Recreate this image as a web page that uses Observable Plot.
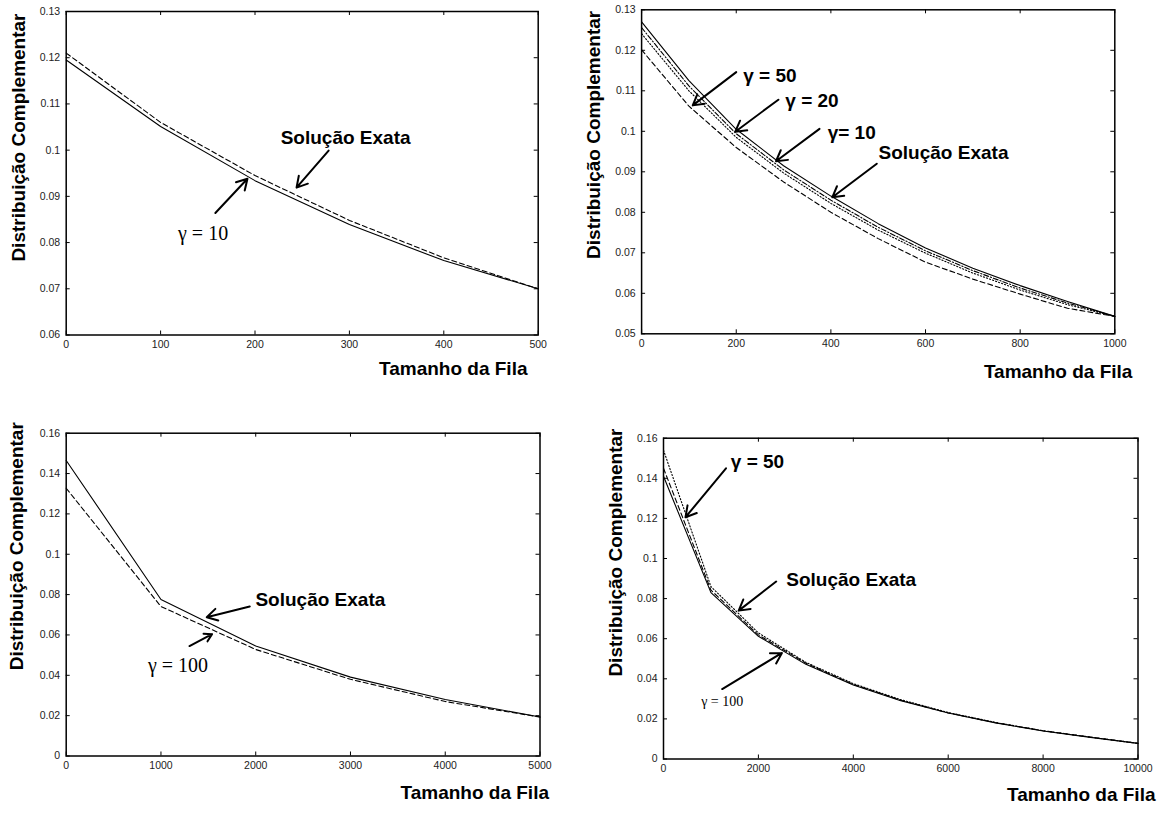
<!DOCTYPE html>
<html><head><meta charset="utf-8">
<script src="https://cdn.jsdelivr.net/npm/d3@7"></script>
<script src="https://cdn.jsdelivr.net/npm/@observablehq/plot@0.6"></script>
<style>
body{margin:0;background:#fff;}
#fig{position:relative;width:1165px;height:813px;background:#fff;overflow:hidden;}
</style></head><body><div id="fig"></div>
<script>
// ---------- DATA ----------
// Panel A (top-left)
const aX = [0, 100, 200, 300, 400, 500];
const aGamma10 = [0.1195, 0.1051, 0.0934, 0.0839, 0.0761, 0.0700];
const aExata   = [0.1210, 0.1060, 0.0945, 0.0848, 0.0767, 0.0700];
const aXTicks = [0, 100, 200, 300, 400, 500];
const aYTicks = [0.06, 0.07, 0.08, 0.09, 0.1, 0.11, 0.12, 0.13];
const aTexts = [
  {x: 296, y: 0.1027, label: "Solução Exata", kind: "bold"},
  {x: 145, y: 0.0819, label: "γ = 10", kind: "serif"}
];
const aArrows = [
  {x1: 278, y1: 0.0999, x2: 244, y2: 0.0919},
  {x1: 158, y1: 0.0864, x2: 192, y2: 0.0938}
];

// Panel B (top-right)
const bX = [0, 100, 200, 300, 400, 500, 600, 700, 800, 900, 1000];
const bExata   = [0.1270, 0.1125, 0.1005, 0.0915, 0.0840, 0.0772, 0.0712, 0.0662, 0.0619, 0.0580, 0.0543];
const bGamma10 = [0.1256, 0.1112, 0.0994, 0.0905, 0.0830, 0.0763, 0.0705, 0.0656, 0.0613, 0.0576, 0.0543];
const bGamma20 = [0.1241, 0.1100, 0.0985, 0.0897, 0.0822, 0.0756, 0.0699, 0.0650, 0.0608, 0.0572, 0.0543];
const bGamma50 = [0.1201, 0.1062, 0.0960, 0.0875, 0.0800, 0.0735, 0.0677, 0.0635, 0.0598, 0.0563, 0.0543];
const bXTicks = [0, 200, 400, 600, 800, 1000];
const bYTicks = [0.05, 0.06, 0.07, 0.08, 0.09, 0.1, 0.11, 0.12, 0.13];
const bTexts = [
  {x: 271, y: 0.1138, label: "γ = 50", kind: "bold"},
  {x: 360, y: 0.1076, label: "γ = 20", kind: "bold"},
  {x: 444, y: 0.0995, label: "γ= 10", kind: "bold"},
  {x: 638, y: 0.0946, label: "Solução Exata", kind: "bold"}
];
const bArrows = [
  {x1: 200, y1: 0.1146, x2: 108, y2: 0.1064},
  {x1: 289, y1: 0.1078, x2: 198, y2: 0.0999},
  {x1: 376, y1: 0.1006, x2: 284, y2: 0.0926},
  {x1: 497, y1: 0.0920, x2: 403, y2: 0.0837}
];

// Panel C (bottom-left)
const cX = [0, 1000, 2000, 3000, 4000, 5000];
const cExata    = [0.1465, 0.0776, 0.0545, 0.0391, 0.0280, 0.0193];
const cGamma100 = [0.1327, 0.0741, 0.0528, 0.0380, 0.0270, 0.0193];
const cXTicks = [0, 1000, 2000, 3000, 4000, 5000];
const cYTicks = [0, 0.02, 0.04, 0.06, 0.08, 0.1, 0.12, 0.14, 0.16];
const cTexts = [
  {x: 2682, y: 0.0776, label: "Solução Exata", kind: "bold"},
  {x: 1180, y: 0.0449, label: "γ = 100", kind: "serif"}
];
const cArrows = [
  {x1: 1937, y1: 0.0741, x2: 1483, y2: 0.0688},
  {x1: 1301, y1: 0.0545, x2: 1539, y2: 0.0604}
];

// Panel D (bottom-right)
const dX = [0, 1000, 2000, 3000, 4000, 5000, 6000, 7000, 8000, 9000, 10000];
const dGamma100 = [0.1410, 0.0830, 0.0612, 0.0472, 0.0369, 0.0291, 0.0229, 0.0180, 0.0140, 0.0108, 0.0078];
const dGamma50  = [0.1450, 0.0842, 0.0619, 0.0478, 0.0372, 0.0293, 0.0230, 0.0181, 0.0141, 0.0109, 0.0078];
const dExata    = [0.1540, 0.0860, 0.0629, 0.0482, 0.0376, 0.0296, 0.0232, 0.0182, 0.0141, 0.0109, 0.0078];
const dXTicks = [0, 2000, 4000, 6000, 8000, 10000];
const dYTicks = [0, 0.02, 0.04, 0.06, 0.08, 0.1, 0.12, 0.14, 0.16];
const dTexts = [
  {x: 1981, y: 0.1484, label: "γ = 50", kind: "bold"},
  {x: 3956, y: 0.0893, label: "Solução Exata", kind: "bold"},
  {x: 1237, y: 0.0286, label: "γ = 100", kind: "serifSmall"}
];
const dArrows = [
  {x1: 1317, y1: 0.1450, x2: 464, y2: 0.1206},
  {x1: 2375, y1: 0.0885, x2: 1585, y2: 0.0740},
  {x1: 1237, y1: 0.0349, x2: 2496, y2: 0.0529}
];

const yLabelText = "Distribuição Complementar";
const xLabelText = "Tamanho da Fila";

// ---------- DRAWING ----------
const SANS = "'Liberation Sans', Arial, Helvetica, sans-serif";
const SERIF = "'Liberation Serif', 'Times New Roman', serif";
const DASH = {solid: null, dashed: "5,3", dotted: "1.2,2", dashdot: "5,2,1.2,2"};
const TEXTSTYLE = {
  bold: {fontFamily: SANS, fontWeight: "bold", fontSize: 19},
  serif: {fontFamily: SERIF, fontWeight: "normal", fontSize: 20},
  serifSmall: {fontFamily: SERIF, fontWeight: "normal", fontSize: 14}
};
const fmt = d3.format("~g");

function rows(xs, ys) { return xs.map((x, i) => ({x, y: ys[i]})); }

function panel(cfg) {
  const m = cfg.margin;
  const innerW = cfg.width - m.left - m.right;
  const innerH = cfg.height - m.top - m.bottom;
  const t = 4;
  const marks = [
    Plot.tickX(cfg.xTicks, {x: d => d, insetTop: innerH - t, stroke: "black"}),
    Plot.tickX(cfg.xTicks, {x: d => d, insetBottom: innerH - t, stroke: "black"}),
    Plot.tickY(cfg.yTicks, {y: d => d, insetRight: innerW - t, stroke: "black"}),
    Plot.tickY(cfg.yTicks, {y: d => d, insetLeft: innerW - t, stroke: "black"}),
    ...cfg.series.map(s => Plot.line(rows(cfg.xs, s.values), {
      x: "x", y: "y", stroke: "black", strokeWidth: 1.1, strokeDasharray: DASH[s.dash]
    })),
    Plot.frame({stroke: "black", strokeWidth: 1.5}),
    Plot.arrow(cfg.arrows, {x1: "x1", y1: "y1", x2: "x2", y2: "y2", stroke: "black", strokeWidth: 2, headLength: 9}),
    ...Object.keys(TEXTSTYLE).map(k => Plot.text(cfg.texts.filter(d => d.kind === k), {
      x: "x", y: "y", text: "label", fill: "black", ...TEXTSTYLE[k]
    })),
    Plot.text([xLabelText], {
      text: d => d, frameAnchor: "bottom-right", textAnchor: "end",
      dx: cfg.xLabel[0], dy: cfg.xLabel[1], fill: "black", ...TEXTSTYLE.bold
    }),
    Plot.text([yLabelText], {
      text: d => d, frameAnchor: "top-left", rotate: -90, textAnchor: "end", lineAnchor: "middle",
      dx: cfg.yLabel[0], dy: cfg.yLabel[1], fill: "black", ...TEXTSTYLE.bold
    })
  ];
  const svg = Plot.plot({
    width: cfg.width, height: cfg.height,
    marginLeft: m.left, marginRight: m.right, marginTop: m.top, marginBottom: m.bottom,
    x: {domain: cfg.xDomain, ticks: cfg.xTicks, tickSize: 0, tickPadding: 6, tickFormat: fmt, label: null},
    y: {domain: cfg.yDomain, ticks: cfg.yTicks, tickSize: 0, tickPadding: 6, tickFormat: fmt, label: null},
    style: {fontFamily: SANS, fontSize: "10.5px", color: "#222", background: "transparent", overflow: "visible",
            position: "absolute", left: cfg.left + "px", top: cfg.top + "px"},
    marks
  });
  document.getElementById("fig").appendChild(svg);
}

panel({
  left: 0, top: 0, width: 580, height: 395,
  margin: {left: 65.7, right: 42.3, top: 11, bottom: 60.5},
  xDomain: [0, 500], yDomain: [0.06, 0.13], xTicks: aXTicks, yTicks: aYTicks, xs: aX,
  series: [{values: aGamma10, dash: "solid"}, {values: aExata, dash: "dashed"}],
  texts: aTexts, arrows: aArrows, xLabel: [-10.7, 39.5], yLabel: [-47.2, 2]
});
panel({
  left: 580, top: 0, width: 585, height: 395,
  margin: {left: 61.1, right: 50.7, top: 9.3, bottom: 61.7},
  xDomain: [0, 1000], yDomain: [0.05, 0.13], xTicks: bXTicks, yTicks: bYTicks, xs: bX,
  series: [{values: bExata, dash: "solid"}, {values: bGamma10, dash: "dashdot"},
           {values: bGamma20, dash: "dotted"}, {values: bGamma50, dash: "dashed"}],
  texts: bTexts, arrows: bArrows, xLabel: [17.6, 44], yLabel: [-48.1, 1]
});
panel({
  left: 0, top: 395, width: 580, height: 418,
  margin: {left: 65.7, right: 40.5, top: 37.7, bottom: 57.5},
  xDomain: [0, 5000], yDomain: [0, 0.16], xTicks: cXTicks, yTicks: cYTicks, xs: cX,
  series: [{values: cExata, dash: "solid"}, {values: cGamma100, dash: "dashed"}],
  texts: cTexts, arrows: cArrows, xLabel: [9, 42.5], yLabel: [-49.7, -11]
});
panel({
  left: 580, top: 395, width: 585, height: 418,
  margin: {left: 83, right: 27.5, top: 42.7, bottom: 54.5},
  xDomain: [0, 10000], yDomain: [0, 0.16], xTicks: dXTicks, yTicks: dYTicks, xs: dX,
  series: [{values: dGamma100, dash: "solid"}, {values: dGamma50, dash: "dashed"}, {values: dExata, dash: "dotted"}],
  texts: dTexts, arrows: dArrows, xLabel: [17.5, 41.5], yLabel: [-47.4, -9.7]
});
</script></body></html>
